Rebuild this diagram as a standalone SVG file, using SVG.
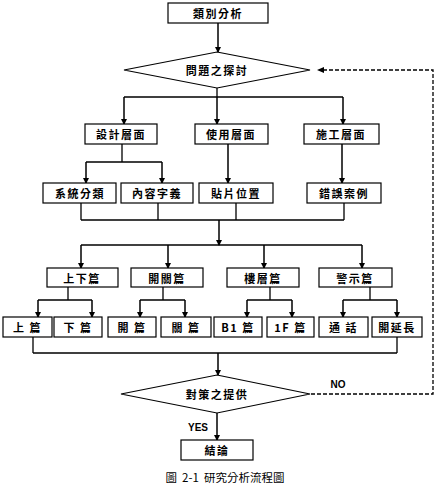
<svg xmlns="http://www.w3.org/2000/svg" width="437" height="485" viewBox="0 0 437 485">
<style>
.box{fill:#fff;stroke:#000;stroke-width:1.2}
.t{font-family:"Noto Sans CJK TC","Liberation Sans",sans-serif;font-size:11px;font-weight:bold;text-anchor:middle;dominant-baseline:central;letter-spacing:1.5px}
.ln{fill:none;stroke:#000;stroke-width:1.3}
.ar{fill:none;stroke:#000;stroke-width:1.5;marker-end:url(#ah)}
.da{fill:none;stroke:#000;stroke-width:1.3;stroke-dasharray:4,2}
.lbl{font-family:"Liberation Sans",sans-serif;font-size:10px;font-weight:bold;text-anchor:middle;dominant-baseline:central}
</style>
<defs>
<marker id="ah" markerWidth="6" markerHeight="6" refX="5" refY="3" orient="auto" markerUnits="userSpaceOnUse"><path d="M0,0 L6,3 L0,6 z" fill="#000"/></marker>
</defs>
<rect width="437" height="485" fill="#fff"/>
<g id="connectors">
<path class="ar" d="M218,23 V52"/>
<path class="ln" d="M217,88 V97 M124,97 H343"/>
<path class="ar" d="M124,97 V124"/>
<path class="ar" d="M217,97 V124"/>
<path class="ar" d="M343,97 V124"/>
<path class="ln" d="M122,144 V162 M86,162 H162"/>
<path class="ar" d="M86,162 V183"/>
<path class="ar" d="M162,162 V183"/>
<path class="ar" d="M228,144 V183"/>
<path class="ar" d="M342,144 V183"/>
<path class="ln" d="M81,203 V220 M158,203 V220 M236,203 V220 M344,203 V220 M81,220 H344"/>
<path class="ar" d="M219,220 V245"/>
<path class="ln" d="M81,245 H362"/>
<path class="ar" d="M81,245 V268"/>
<path class="ar" d="M168,245 V268"/>
<path class="ar" d="M264,245 V268"/>
<path class="ar" d="M362,245 V268"/>
<path class="ln" d="M68,287 V300 M38,300 H92 M163,287 V300 M140,300 H185 M270,287 V300 M247,300 H292 M370,287 V300 M343,300 H397"/>
<path class="ar" d="M38,300 V317"/>
<path class="ar" d="M92,300 V317"/>
<path class="ar" d="M140,300 V317"/>
<path class="ar" d="M185,300 V317"/>
<path class="ar" d="M247,300 V317"/>
<path class="ar" d="M292,300 V317"/>
<path class="ar" d="M343,300 V317"/>
<path class="ar" d="M397,300 V317"/>
<path class="ln" d="M33,337 V353 M397,337 V353 M33,353 H397"/>
<path class="ar" d="M218,353 V375"/>
<path class="ar" d="M217,413 V440"/>
<path class="da" d="M311,394 H433 V70 H322"/>
<path d="M317,70 L324,67 L324,73 z" fill="#000"/>
<text class="lbl" x="338" y="384">NO</text>
<text class="lbl" x="198" y="427">YES</text>
</g>
<g id="n_top"><rect class="box" x="168" y="3" width="100" height="20"/><text class="t" x="218" y="13">類別分析</text></g>
<g id="n_d1"><polygon class="box" points="217,52 310,70 217,88 124,70"/><text class="t" x="217" y="70">問題之探討</text></g>
<g id="n_design"><rect class="box" x="85" y="124" width="72" height="20"/><text class="t" x="121" y="134">設計層面</text></g>
<g id="n_use"><rect class="box" x="195" y="124" width="73" height="20"/><text class="t" x="231" y="134">使用層面</text></g>
<g id="n_build"><rect class="box" x="304" y="124" width="75" height="20"/><text class="t" x="341" y="134">施工層面</text></g>
<g id="n_sys"><rect class="box" x="43" y="183" width="73" height="20"/><text class="t" x="80" y="193">系統分類</text></g>
<g id="n_content"><rect class="box" x="121" y="183" width="72" height="20"/><text class="t" x="157" y="193">內容字義</text></g>
<g id="n_paste"><rect class="box" x="199" y="183" width="74" height="20"/><text class="t" x="236" y="193">貼片位置</text></g>
<g id="n_err"><rect class="box" x="307" y="183" width="74" height="20"/><text class="t" x="344" y="193">錯誤案例</text></g>
<g id="n_updown"><rect class="box" x="47" y="268" width="71" height="19"/><text class="t" x="82" y="277.5">上下篇</text></g>
<g id="n_openclose"><rect class="box" x="131" y="268" width="72" height="19"/><text class="t" x="167" y="277.5">開關篇</text></g>
<g id="n_floor"><rect class="box" x="227" y="268" width="72" height="19"/><text class="t" x="263" y="277.5">樓層篇</text></g>
<g id="n_warn"><rect class="box" x="319" y="268" width="73" height="19"/><text class="t" x="355" y="277.5">警示篇</text></g>
<g id="n_up"><rect class="box" x="3" y="317" width="49" height="20"/><text class="t" x="27.5" y="327">上 篇</text></g>
<g id="n_down"><rect class="box" x="54" y="317" width="48" height="20"/><text class="t" x="78" y="327">下 篇</text></g>
<g id="n_open"><rect class="box" x="108" y="317" width="48" height="20"/><text class="t" x="132" y="327">開 篇</text></g>
<g id="n_close"><rect class="box" x="161" y="317" width="50" height="20"/><text class="t" x="186" y="327">關 篇</text></g>
<g id="n_b1"><rect class="box" x="214" y="317" width="48" height="20"/><text class="t" x="238" y="327">B1 篇</text></g>
<g id="n_1f"><rect class="box" x="267" y="317" width="47" height="20"/><text class="t" x="290.5" y="327">1F 篇</text></g>
<g id="n_call"><rect class="box" x="319" y="317" width="49" height="20"/><text class="t" x="343.5" y="327">通 話</text></g>
<g id="n_ext"><rect class="box" x="372" y="317" width="50" height="20"/><text class="t" x="397" y="327">開延長</text></g>
<g id="n_d2"><polygon class="box" points="217,375 310,394 217,413 121,394"/><text class="t" x="217" y="394">對策之提供</text></g>
<g id="n_end"><rect class="box" x="181" y="440" width="72" height="20"/><text class="t" x="217" y="450">結論</text></g>
<text x="225" y="477" xml:space="preserve" style="font-family:'Noto Sans CJK TC','Liberation Serif',sans-serif;font-size:11.5px;text-anchor:middle;dominant-baseline:central;white-space:pre">圖  2-1  研究分析流程圖</text>
</svg>
